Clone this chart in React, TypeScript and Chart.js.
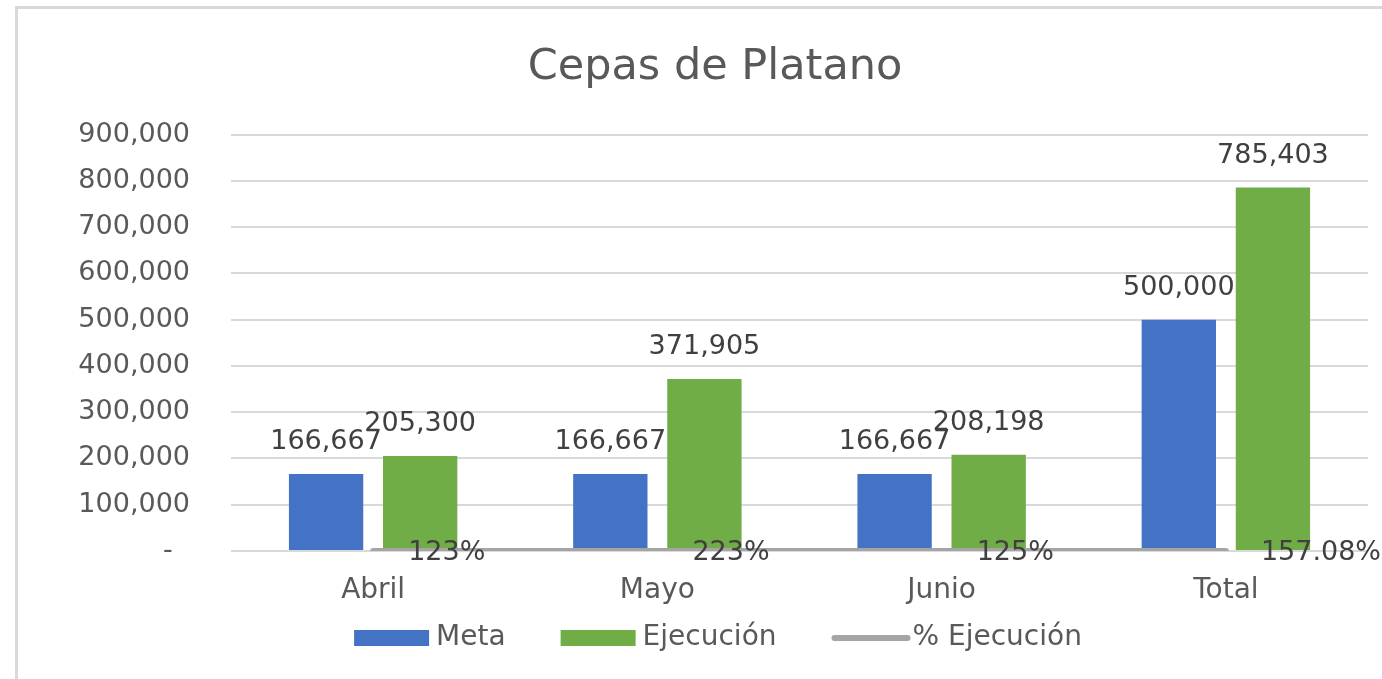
import React, { useEffect, useRef } from "react";
import { Chart, registerables } from "chart.js";

Chart.register(...registerables);

const categories = ["Abril", "Mayo", "Junio", "Total"];
const metaValues = [166667, 166667, 166667, 500000];
const ejecucionValues = [205300, 371905, 208198, 785403];
const pctValues = [1.23, 2.23, 1.25, 1.5708];
const pctLabels = ["123%", "223%", "125%", "157.08%"];
const seriesNames = ["Meta", "Ejecución", "% Ejecución"];
const chartTitle = "Cepas de Platano";
const yMax = 900000;
const yStep = 100000;

const FONT = "'DejaVu Sans', sans-serif";
const BLUE = "#4472C4";
const GREEN = "#70AD47";
const GREY = "#A5A5A5";

const fmt = (v: number) => v.toLocaleString("en-US");

const labelsPlugin = {
  id: "valueLabels",
  afterDatasetsDraw(chart: any) {
    const ctx = chart.ctx;
    ctx.save();
    ctx.font = `27px ${FONT}`;
    ctx.fillStyle = "#404040";
    chart.data.datasets.forEach((ds: any, di: number) => {
      const meta = chart.getDatasetMeta(di);
      meta.data.forEach((el: any, i: number) => {
        if (ds.type === "line") {
          ctx.textAlign = "left";
          ctx.textBaseline = "middle";
          ctx.fillText(pctLabels[i], el.x + 35, el.y + 2);
        } else {
          ctx.textAlign = "center";
          ctx.textBaseline = "middle";
          ctx.fillText(fmt(ds.data[i]), el.x, el.y - 32);
        }
      });
    });
    ctx.restore();
  },
};

const legendPlugin = {
  id: "customLegend",
  afterDraw(chart: any) {
    const ctx = chart.ctx;
    ctx.save();
    ctx.font = `28px ${FONT}`;
    ctx.textBaseline = "middle";
    ctx.textAlign = "left";
    const cy = 638;
    const items = chart.data.datasets.map((ds: any) => {
      const isLine = ds.type === "line";
      const sw = isLine ? 79 : 75;
      const gap = isLine ? 2 : 7;
      const tw = ctx.measureText(ds.label).width;
      return { ds, isLine, sw, gap, tw, w: sw + gap + tw };
    });
    const spacing = 55;
    const total = items.reduce((s: number, it: any) => s + it.w, 0) + spacing * (items.length - 1);
    let x = chart.width / 2 - total / 2;
    items.forEach((it: any) => {
      if (it.isLine) {
        ctx.strokeStyle = it.ds.borderColor;
        ctx.lineWidth = 6;
        ctx.lineCap = "round";
        ctx.beginPath();
        ctx.moveTo(x + 3, cy);
        ctx.lineTo(x + it.sw - 3, cy);
        ctx.stroke();
      } else {
        ctx.fillStyle = it.ds.backgroundColor;
        ctx.fillRect(x, cy - 8, it.sw, 16);
      }
      ctx.fillStyle = "#595959";
      ctx.fillText(it.ds.label, x + it.sw + it.gap, cy);
      x += it.w + spacing;
    });
    ctx.restore();
  },
};

export default function App() {
  const ref = useRef<HTMLCanvasElement>(null);
  useEffect(() => {
    if (!ref.current) return;
    const chart = new Chart(ref.current, {
      type: "bar",
      data: {
        labels: categories,
        datasets: [
          {
            type: "bar",
            label: seriesNames[0],
            data: metaValues,
            backgroundColor: BLUE,
            categoryPercentage: 0.662,
            barPercentage: 0.79,
            order: 1,
          },
          {
            type: "bar",
            label: seriesNames[1],
            data: ejecucionValues,
            backgroundColor: GREEN,
            categoryPercentage: 0.662,
            barPercentage: 0.79,
            order: 1,
          },
          {
            type: "line",
            label: seriesNames[2],
            data: pctValues,
            borderColor: GREY,
            backgroundColor: GREY,
            borderWidth: 6,
            borderCapStyle: "round",
            pointRadius: 0,
            order: 0,
          } as any,
        ],
      },
      options: {
        responsive: false,
        animation: false,
        devicePixelRatio: 1,
        layout: { padding: { left: 62, right: 68, top: 0, bottom: 68 } },
        plugins: {
          legend: { display: false },
          tooltip: { enabled: false },
          title: {
            display: true,
            text: chartTitle,
            color: "#595959",
            font: { family: FONT, size: 43, weight: "normal" },
            padding: { top: 42, bottom: 41 },
          },
        },
        scales: {
          x: {
            grid: { display: false, drawTicks: false },
            border: { display: false },
            ticks: { color: "#595959", font: { family: FONT, size: 28 }, padding: 23 },
            afterFit: (s: any) => {
              s.height = 60;
            },
          },
          y: {
            min: 0,
            max: yMax,
            grid: { color: "#d9d9d9", lineWidth: 2, drawTicks: false },
            border: { display: false },
            ticks: {
              stepSize: yStep,
              color: "#595959",
              font: { family: FONT, size: 27 },
              padding: 41,
              callback: (v: any) => (v === 0 ? "-  " : fmt(v)),
            },
            afterFit: (s: any) => {
              s.width = 169;
            },
          },
        },
      },
      plugins: [labelsPlugin, legendPlugin],
    });
    return () => chart.destroy();
  }, []);

  return (
    <div style={{ position: "fixed", inset: 0, overflow: "hidden", background: "#fff" }}>
      <div
        style={{
          position: "absolute",
          left: 15,
          top: 6,
          width: 1500,
          height: 800,
          borderTop: "3px solid #d9d9d9",
          borderLeft: "3px solid #d9d9d9",
        }}
      />
      <canvas
        ref={ref}
        width={1436}
        height={679}
        style={{ position: "absolute", left: 0, top: 0 }}
      />
    </div>
  );
}
